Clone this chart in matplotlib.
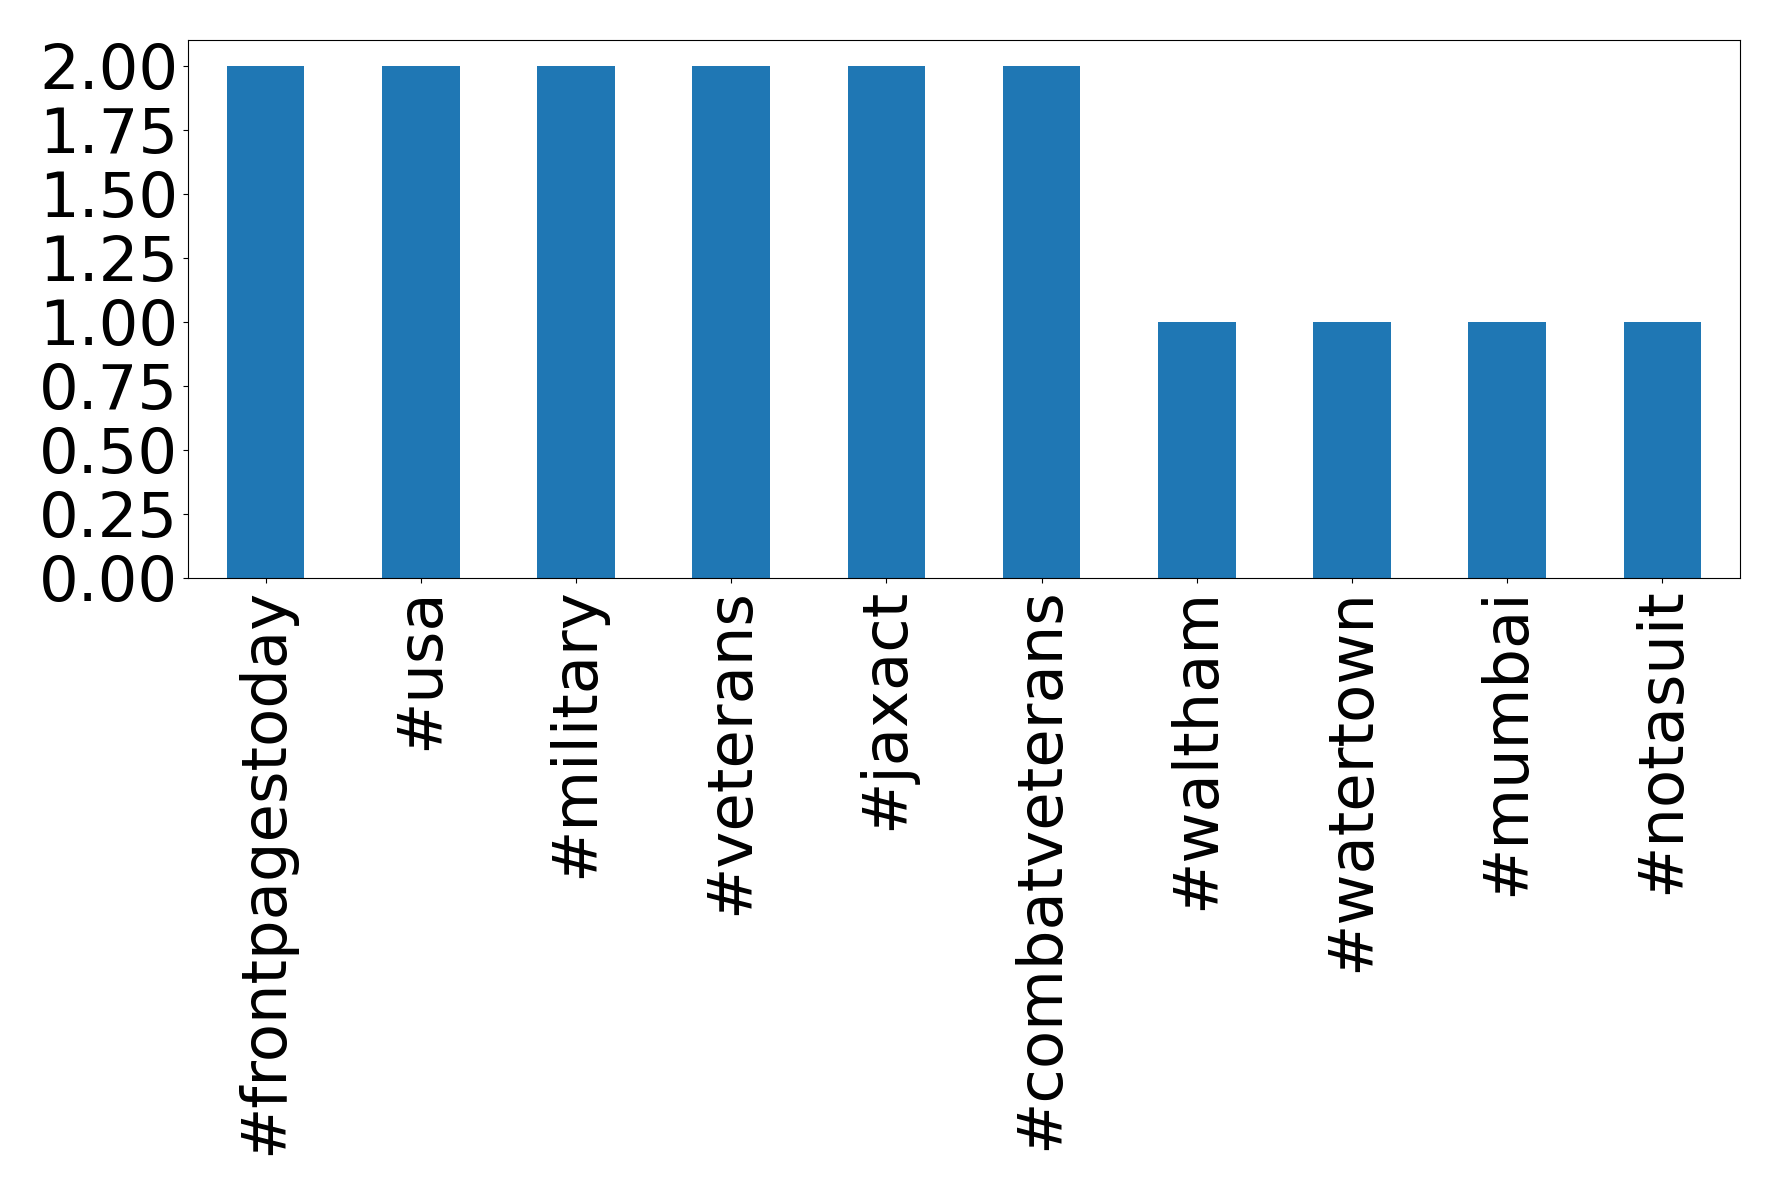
import matplotlib
matplotlib.use("Agg")
import matplotlib.pyplot as plt

categories = ["#frontpagestoday", "#usa", "#military", "#veterans", "#jaxact",
              "#combatveterans", "#waltham", "#watertown", "#mumbai", "#notasuit"]
counts = [2, 2, 2, 2, 2, 2, 1, 1, 1, 1]
yticks = [0, 0.25, 0.5, 0.75, 1.0, 1.25, 1.5, 1.75, 2.0]

fig = plt.figure(figsize=(17.78, 11.95), dpi=100)
ax = fig.add_axes([188/1778, 1 - 578/1195, (1740-188)/1778, (578-40)/1195])
x = range(len(categories))
ax.bar(x, counts, width=0.5, color="#1f77b4")
ax.set_xlim(-0.5, len(categories) - 0.5)
ax.set_ylim(0, 2.1)
ax.set_yticks(yticks)
ax.set_yticklabels([f"{v:.2f}" for v in yticks])
ax.set_xticks(list(x))
ax.set_xticklabels(categories, rotation=90)
ax.tick_params(axis="both", labelsize=45)
fig.savefig("out.png", dpi=100)
